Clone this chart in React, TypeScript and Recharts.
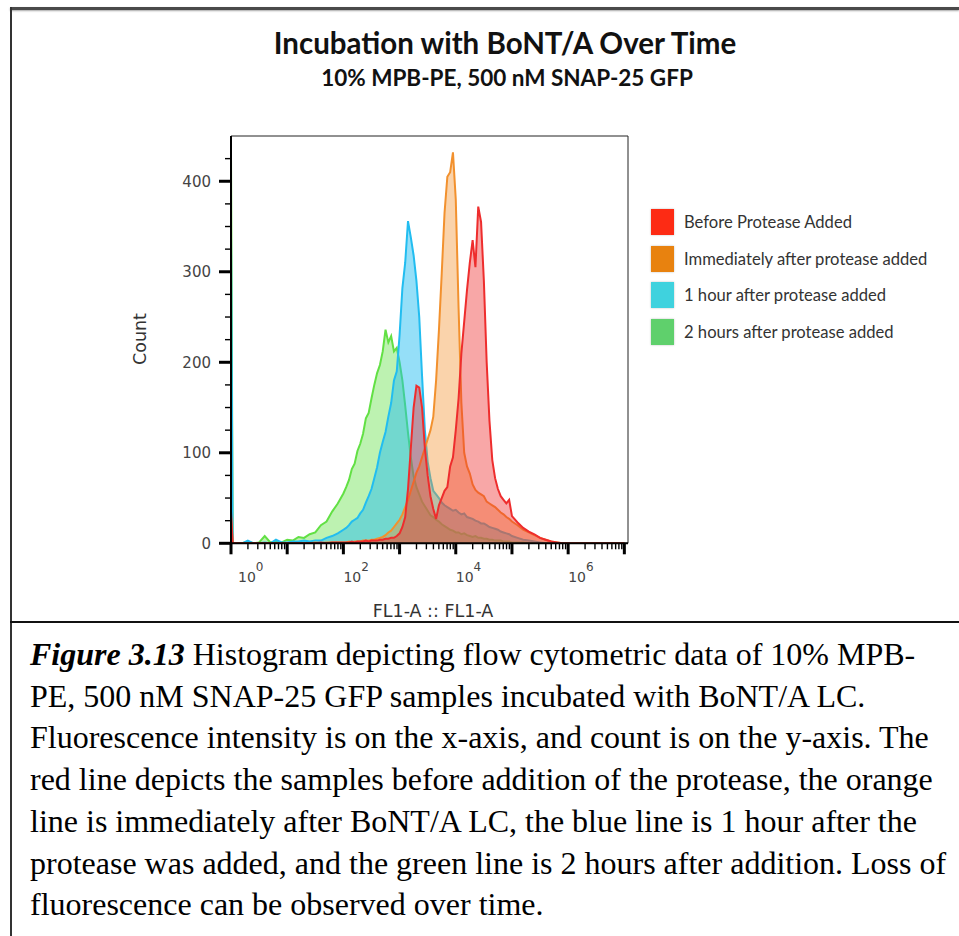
import React from 'react';
import { AreaChart, Area, XAxis, YAxis, ReferenceArea } from 'recharts';

// log10 of FL1-A fluorescence intensity (bin centres)
const logFL1 = [
  0, 0.03, 0.1, 0.2, 0.3, 0.4, 0.5, 0.6, 0.7, 0.8, 0.9, 1.0, 1.1, 1.2, 1.3, 1.4, 1.5, 1.6, 1.7, 1.8, 1.9,
  2.0, 2.05, 2.1, 2.15, 2.2, 2.25, 2.3, 2.35, 2.4, 2.45,
  2.5, 2.55, 2.6, 2.65, 2.7, 2.75, 2.8, 2.85, 2.9, 2.95,
  3.0, 3.05, 3.1, 3.15, 3.2, 3.25, 3.3, 3.35, 3.4, 3.45,
  3.5, 3.55, 3.6, 3.65, 3.7, 3.75, 3.8, 3.85, 3.9, 3.95,
  4.0, 4.05, 4.1, 4.15, 4.2, 4.25, 4.3, 4.35, 4.4, 4.45,
  4.5, 4.55, 4.6, 4.65, 4.7, 4.75, 4.8, 4.85, 4.9, 4.95,
  5.0, 5.1, 5.2, 5.3, 5.4, 5.5, 5.6, 5.7, 5.8, 5.9, 6.0, 6.5, 7.0,
];

const beforeProtease = [
  35, 0, 0, 0, 0, 0, 0, 0, 0, 0, 0, 0, 0, 0, 0, 0, 0, 1, 0, 1, 1,
  1, 1, 1, 2, 1, 2, 2, 2, 3, 2,
  3, 3, 3, 4, 4, 5, 5, 6, 6, 8,
  11, 18, 29, 60, 105, 150, 174, 172, 150, 105,
  75, 52, 38, 27, 42, 50, 58, 62, 85, 95,
  125, 160, 210, 245, 280, 310, 335, 305, 372, 355,
  290, 200, 135, 92, 72, 60, 52, 48, 44, 48,
  30, 23, 17, 13, 10, 6, 4, 2, 1, 0, 0, 0, 0,
];

const immediatelyAfter = [
  30, 0, 0, 0, 0, 0, 0, 0, 0, 0, 0, 0, 0, 0, 0, 0, 1, 0, 1, 1, 1,
  1, 1, 2, 1, 2, 2, 2, 3, 3, 3,
  4, 4, 5, 6, 7, 9, 12, 14, 18, 22,
  26, 32, 40, 48, 58, 68, 78, 85, 95, 105,
  115, 125, 140, 180, 235, 298, 365, 405, 410, 432,
  380, 260, 155, 100, 85, 77, 65, 59, 56, 54,
  52, 46, 44, 42, 40, 37, 34, 32, 29, 27,
  24, 20, 15, 12, 9, 6, 4, 2, 1, 0, 0, 0, 0,
];

const oneHourAfter = [
  345, 0, 0, 0, 3, 0, 0, 1, 0, 4, 1, 1, 2, 2, 3, 2, 3, 3, 6, 8, 11,
  15, 17, 20, 24, 26, 28, 33, 37, 45, 52,
  60, 72, 84, 100, 112, 123, 140, 155, 180, 190,
  230, 282, 310, 356, 338, 318, 290, 250, 185, 125,
  90, 72, 58, 54, 50, 45, 42, 40, 38, 36,
  37, 34, 32, 33, 29, 28, 27, 25, 24, 22,
  22, 20, 18, 17, 16, 15, 13, 12, 11, 10,
  8, 6, 4, 3, 2, 1, 0, 0, 0, 0, 0, 0, 0,
];

const twoHoursAfter = [
  434, 0, 0, 0, 2, 0, 1, 8, 1, 2, 1, 4, 3, 7, 6, 10, 12, 20, 24, 35, 44,
  55, 62, 70, 82, 88, 102, 110, 121, 138, 144,
  160, 175, 188, 197, 212, 236, 222, 229, 212, 216,
  200, 180, 152, 122, 95, 74, 62, 54, 46, 41,
  36, 31, 29, 26, 24, 21, 19, 17, 15, 14,
  12, 12, 10, 11, 9, 8, 7, 8, 6, 6,
  5, 5, 4, 4, 3, 3, 3, 2, 2, 2,
  1, 1, 1, 0, 0, 0, 0, 0, 0, 0, 0, 0, 0,
];

const seriesNames = [
  'Before Protease Added',
  'Immediately after protease added',
  '1 hour after protease added',
  '2 hours after protease added',
];
const legendColors = ['#fd2b14', '#e8820f', '#3fd2de', '#5fd06c'];
const lineColors = ['#ee2d2d', '#f2912e', '#22bdf0', '#62e044'];

const xTickExponents = [0, 2, 4, 6];
const yTickLabels = [0, 100, 200, 300, 400];

const X_MAX = 7.065;
const Y_MAX = 450;

const data = logFL1.map((lx, i) => ({
  lx,
  before: beforeProtease[i],
  immediate: immediatelyAfter[i],
  oneHour: oneHourAfter[i],
  twoHours: twoHoursAfter[i],
}));

const xTicks: number[] = [];
for (let d = 0; d <= 7; d++) {
  for (let k = 1; k <= 9; k++) {
    const v = d + Math.log10(k);
    if (v <= X_MAX + 1e-9) xTicks.push(v);
  }
}
const yTicks: number[] = [];
for (let v = 0; v < Y_MAX; v += 25) yTicks.push(v);

const axisFont = '"DejaVu Sans", sans-serif';

function XTick(props: any) {
  const { x, y, payload } = props;
  const v = payload.value;
  const exp = Math.round(v);
  const isMajor = Math.abs(v - exp) < 1e-6;
  const showLabel = isMajor && xTickExponents.includes(exp);
  return (
    <g>
      <line x1={x} x2={x} y1={y} y2={y + (isMajor ? 11 : 6)} stroke="#000" strokeWidth={isMajor ? 3 : 1.4} />
      {showLabel && (
        <text x={x + (exp === 0 ? 7 : 0)} y={y + 39} fontSize={14} fill="#444" fontFamily={axisFont} textAnchor="start">
          10
          <tspan dy={-11} fontSize={12}>{exp}</tspan>
        </text>
      )}
    </g>
  );
}

function YTick(props: any) {
  const { x, y, payload } = props;
  const v = payload.value;
  const isMajor = yTickLabels.includes(v);
  return (
    <g>
      <line x1={x - (isMajor ? 12 : 6)} x2={x} y1={y} y2={y} stroke="#000" strokeWidth={isMajor ? 3 : 1.4} />
      {isMajor && (
        <text x={x - 20} y={y} dy="0.36em" fontSize={15} fill="#444" fontFamily={axisFont} textAnchor="end">
          {v}
        </text>
      )}
    </g>
  );
}

const captionLines = [
  null,
  'PE, 500 nM SNAP-25 GFP samples incubated with BoNT/A LC.',
  'Fluorescence intensity is on the x-axis, and count is on the y-axis. The',
  'red line depicts the samples before addition of the protease, the orange',
  'line is immediately after BoNT/A LC, the blue line is 1 hour after the',
  'protease was added, and the green line is 2 hours after addition. Loss of',
  'fluorescence can be observed over time.',
];

export default function App() {
  return (
    <div style={{ position: 'absolute', left: 0, top: 0, width: 959, height: 936, background: '#fff', overflow: 'hidden' }}>
      {/* figure frame */}
      <div style={{ position: 'absolute', left: 10, top: 7, width: 949, height: 3, background: '#4a4a4a', boxShadow: '0 1px 2px rgba(0,0,0,0.35)' }} />
      <div style={{ position: 'absolute', left: 10, top: 7, width: 2, height: 929, background: '#333' }} />
      <div style={{ position: 'absolute', left: 10, top: 621, width: 949, height: 2, background: '#111' }} />

      {/* titles */}
      <div style={{ position: 'absolute', left: 0, width: 1010, top: 25, textAlign: 'center', fontFamily: 'Lato, sans-serif', fontWeight: 700, fontSize: 29.5, lineHeight: '36px', color: '#111' }}>
        Incubation with BoNT/A Over Time
      </div>
      <div style={{ position: 'absolute', left: 0, width: 1014, top: 64, textAlign: 'center', fontFamily: 'Lato, sans-serif', fontWeight: 700, fontSize: 22.5, lineHeight: '28px', color: '#111' }}>
        10% MPB-PE, 500 nM SNAP-25 GFP
      </div>

      <div style={{ position: 'absolute', left: 0, top: 0 }}>
        <AreaChart width={959} height={622} data={data} margin={{ top: 136, right: 331, left: 171, bottom: 38.7 }}>
          <XAxis
            type="number"
            dataKey="lx"
            domain={[0, X_MAX]}
            allowDataOverflow
            ticks={xTicks}
            interval={0}
            tick={<XTick />}
            tickLine={false}
            tickSize={0}
            tickMargin={0}
            height={40}
            axisLine={{ stroke: '#000', strokeWidth: 2 }}
          />
          <YAxis
            type="number"
            domain={[0, Y_MAX]}
            allowDataOverflow
            ticks={yTicks}
            interval={0}
            tick={<YTick />}
            tickLine={false}
            tickSize={0}
            tickMargin={0}
            width={60}
            axisLine={{ stroke: '#000', strokeWidth: 2 }}
          />
          <ReferenceArea x1={0} x2={X_MAX} y1={0} y2={Y_MAX} fill="none" stroke="#222" strokeWidth={1} />
          <Area type="linear" dataKey="twoHours" name={seriesNames[3]} stroke={lineColors[3]} strokeWidth={2} fill={lineColors[3]} fillOpacity={0.42} dot={false} activeDot={false} isAnimationActive={false} />
          <Area type="linear" dataKey="oneHour" name={seriesNames[2]} stroke={lineColors[2]} strokeWidth={2} fill={lineColors[2]} fillOpacity={0.48} dot={false} activeDot={false} isAnimationActive={false} />
          <Area type="linear" dataKey="immediate" name={seriesNames[1]} stroke={lineColors[1]} strokeWidth={2} fill={lineColors[1]} fillOpacity={0.4} dot={false} activeDot={false} isAnimationActive={false} />
          <Area type="linear" dataKey="before" name={seriesNames[0]} stroke={lineColors[0]} strokeWidth={2} fill={lineColors[0]} fillOpacity={0.42} dot={false} activeDot={false} isAnimationActive={false} />
        </AreaChart>
      </div>

      {/* axis titles */}
      <div style={{ position: 'absolute', left: 140, top: 339, transform: 'translate(-50%, -50%) rotate(-90deg)', fontFamily: axisFont, fontSize: 17.5, color: '#333', whiteSpace: 'nowrap' }}>
        Count
      </div>
      <div style={{ position: 'absolute', left: 433, top: 611, transform: 'translate(-50%, -50%)', fontFamily: axisFont, fontSize: 17.5, color: '#333', whiteSpace: 'nowrap' }}>
        FL1-A :: FL1-A
      </div>

      {/* legend */}
      {seriesNames.map((name, i) => (
        <div key={name} style={{ position: 'absolute', left: 651, top: 209 + i * 36.5, height: 26, display: 'flex', alignItems: 'center' }}>
          <div style={{ width: 23, height: 26, background: legendColors[i], boxShadow: '0 0 2px rgba(0,0,0,0.25)' }} />
          <div style={{ marginLeft: 10, fontFamily: 'Lato, sans-serif', fontSize: 16.6, color: '#333', whiteSpace: 'nowrap' }}>{name}</div>
        </div>
      ))}

      {/* caption */}
      <div style={{ position: 'absolute', left: 30, top: 634, fontFamily: '"Liberation Serif", "Times New Roman", serif', fontSize: 32, lineHeight: '41.7px', color: '#000', whiteSpace: 'nowrap' }}>
        {captionLines.map((line, i) => (
          <div key={i}>
            {i === 0 ? (
              <>
                <b><i>Figure 3.13</i></b> Histogram depicting flow cytometric data of 10% MPB-
              </>
            ) : (
              line
            )}
          </div>
        ))}
      </div>
    </div>
  );
}
